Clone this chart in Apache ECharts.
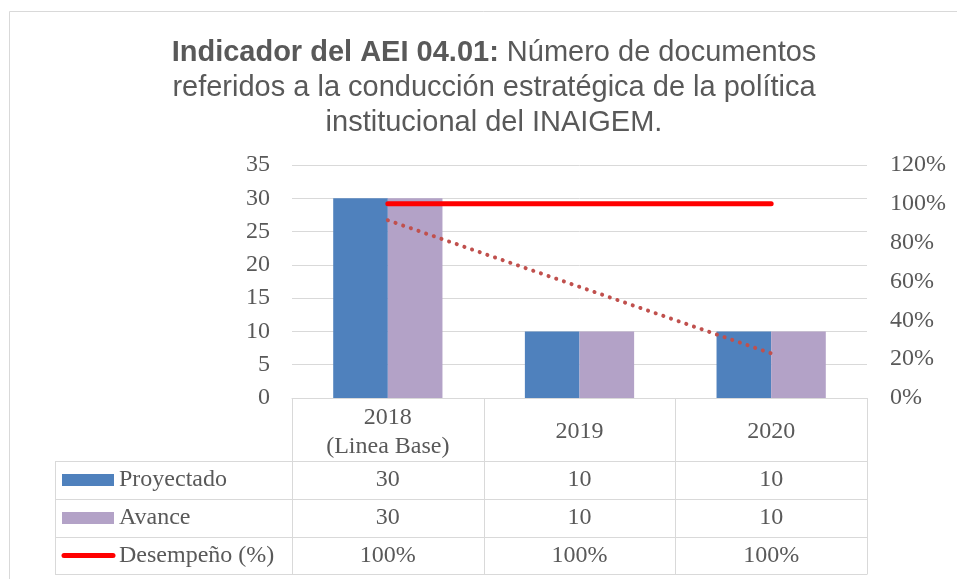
<!doctype html>
<html lang="es">
<head>
  <meta charset="utf-8">
  <title>Indicador del AEI 04.01</title>
  <script src="https://cdn.jsdelivr.net/npm/echarts@6/dist/echarts.min.js"></script>
  <style>
    html, body { margin: 0; padding: 0; background: #fff; }
    #chart { width: 957px; height: 579px; }
  </style>
</head>
<body>
  <div id="chart"></div>
  <script>
    // datos
    var categories = ['2018\n(Linea Base)', '2019', '2020'];
    var proyectado = [30, 10, 10];
    var avance = [30, 10, 10];
    var desempeno = [1, 1, 1];          // 100%
    var tendencia = [26.7, 16.7, 6.7];  // linea de tendencia punteada
    var seriesNames = ['Proyectado', 'Avance', 'Desempeño (%)'];

    var colors = ['#4F81BD', '#B3A2C7', '#FF0000', '#C0504D'];
    var textColor = '#595959';
    var borderColor = '#d9d9d9';
    var serif = '"Liberation Serif", serif';
    var fs = 24;

    // geometria del area de dibujo y la tabla
    var gLeft = 292, gRight = 867, gTop = 165, gBottom = 398;
    var tableLeft = 55;
    var rowLines = [461, 499, 537, 574];
    var colW = (gRight - gLeft) / categories.length;

    function pct(v) { return Math.round(v * 100) + '%'; }

    var rows = [
      { name: seriesNames[0], vals: proyectado.map(String), swatch: 'bar', color: colors[0] },
      { name: seriesNames[1], vals: avance.map(String), swatch: 'bar', color: colors[1] },
      { name: seriesNames[2], vals: desempeno.map(pct), swatch: 'line', color: colors[2] }
    ];

    var graphics = [];
    // marco exterior
    graphics.push({ type: 'rect', shape: { x: 9.5, y: 11.5, width: 1000, height: 1000 },
      style: { fill: 'none', stroke: borderColor, lineWidth: 1 }, silent: true });

    // lineas de la tabla
    rowLines.forEach(function (y) {
      graphics.push({ type: 'line', shape: { x1: tableLeft, y1: y + 0.5, x2: gRight, y2: y + 0.5 },
        style: { stroke: borderColor, lineWidth: 1 } });
    });
    for (var c = 0; c <= categories.length; c++) {
      var x = Math.round(gLeft + c * colW) + 0.5;
      graphics.push({ type: 'line', shape: { x1: x, y1: gBottom, x2: x, y2: rowLines[3] + 0.5 },
        style: { stroke: borderColor, lineWidth: 1 } });
    }
    graphics.push({ type: 'line', shape: { x1: tableLeft + 0.5, y1: rowLines[0], x2: tableLeft + 0.5, y2: rowLines[3] + 0.5 },
      style: { stroke: borderColor, lineWidth: 1 } });

    // contenido de la tabla
    rows.forEach(function (r, i) {
      var yc = (rowLines[i] + rowLines[i + 1]) / 2;
      if (r.swatch === 'bar') {
        graphics.push({ type: 'rect', shape: { x: 62, y: yc - 6, width: 52, height: 12 },
          style: { fill: r.color } });
      } else {
        graphics.push({ type: 'line', shape: { x1: 64, y1: yc, x2: 113, y2: yc },
          style: { stroke: r.color, lineWidth: 5, lineCap: 'round' } });
      }
      graphics.push({ type: 'text', x: 119, y: yc,
        style: { text: r.name, fill: textColor, font: fs + 'px ' + serif, textVerticalAlign: 'middle', textAlign: 'left' } });
      r.vals.forEach(function (v, j) {
        graphics.push({ type: 'text', x: gLeft + (j + 0.5) * colW, y: yc,
          style: { text: v, fill: textColor, font: fs + 'px ' + serif, textVerticalAlign: 'middle', textAlign: 'center' } });
      });
    });

    var sans = '"Liberation Sans", Arial, sans-serif';
    var chart = echarts.init(document.getElementById('chart'));
    var option = {
      animation: false,
      title: {
        text: '{b|Indicador del AEI 04.01:}{n| Número de documentos}\n{n|referidos a la conducción estratégica de la política}\n{n|institucional del INAIGEM.}',
        left: 489,
        top: 30,
        textAlign: 'center',
        textStyle: {
          fontFamily: sans,
          fontSize: 29,
          color: textColor,
          lineHeight: 35,
          align: 'center',
          rich: {
            b: { fontFamily: sans, fontSize: 29, fontWeight: 'bold', color: textColor, lineHeight: 35 },
            n: { fontFamily: sans, fontSize: 29, fontWeight: 'normal', color: textColor, lineHeight: 35 }
          }
        }
      },
      grid: { left: gLeft, right: 957 - gRight, top: gTop, bottom: 579 - gBottom },
      xAxis: {
        type: 'category',
        data: categories,
        axisLine: { show: true, lineStyle: { color: borderColor } },
        axisTick: { show: false },
        axisLabel: {
          color: textColor, fontFamily: serif, fontSize: fs, lineHeight: 29,
          margin: 34, verticalAlign: 'middle'
        }
      },
      yAxis: [
        {
          type: 'value', min: 0, max: 35, interval: 5,
          axisLine: { show: false }, axisTick: { show: false },
          axisLabel: { color: textColor, fontFamily: serif, fontSize: fs, margin: 22 },
          splitLine: { lineStyle: { color: borderColor, width: 1 } }
        },
        {
          type: 'value', min: 0, max: 1.2, interval: 0.2, position: 'right',
          axisLine: { show: false }, axisTick: { show: false },
          axisLabel: { color: textColor, fontFamily: serif, fontSize: fs, margin: 23, formatter: pct },
          splitLine: { show: false }
        }
      ],
      series: [
        { name: seriesNames[0], type: 'bar', data: proyectado, itemStyle: { color: colors[0] },
          barGap: '0%', barCategoryGap: '43%' },
        { name: seriesNames[1], type: 'bar', data: avance, itemStyle: { color: colors[1] } },
        { name: 'Tendencia', type: 'line', data: tendencia, symbol: 'none', z: 3,
          lineStyle: { color: colors[3], width: 4, type: [0.1, 8], cap: 'round' } },
        { name: seriesNames[2], type: 'line', yAxisIndex: 1, data: desempeno, symbol: 'none', z: 4,
          lineStyle: { color: colors[2], width: 5, cap: 'round' } }
      ],
      graphic: graphics
    };
    chart.setOption(option);
  </script>
</body>
</html>
